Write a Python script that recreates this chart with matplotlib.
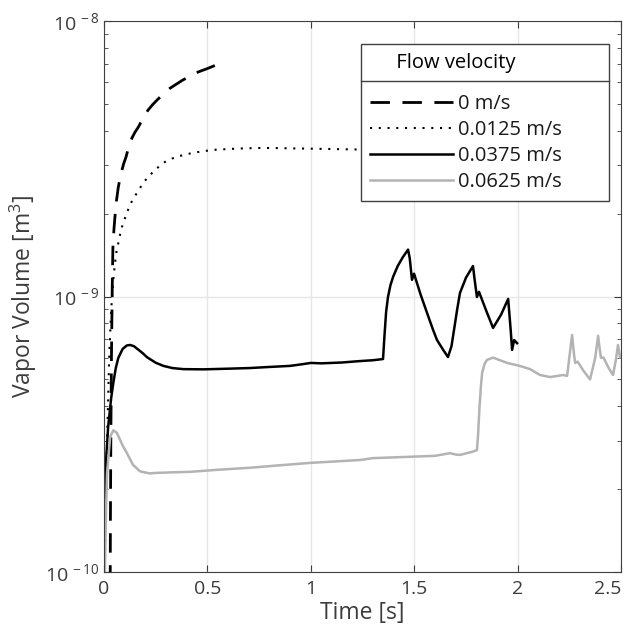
import numpy as np
import matplotlib.pyplot as plt
from matplotlib.lines import Line2D

plt.rcParams['font.family'] = ['Open Sans', 'DejaVu Sans']
plt.rcParams['mathtext.fontset'] = 'custom'
plt.rcParams['mathtext.rm'] = 'Open Sans'
plt.rcParams['mathtext.it'] = 'Open Sans'

# 0 m/s (dashed)
t0 = [0.030, 0.031, 0.033, 0.036, 0.040, 0.043, 0.048, 0.053, 0.060, 0.069, 0.078, 0.087,
      0.096, 0.106, 0.120, 0.135, 0.150, 0.166, 0.190, 0.213, 0.235, 0.256, 0.285, 0.319,
      0.350, 0.380, 0.420, 0.455, 0.500, 0.537]
v0 = [0.9e-10, 1.5e-10, 3.0e-10, 6.0e-10, 1.1e-9, 1.5e-9, 1.75e-9, 1.95e-9, 2.22e-9, 2.49e-9,
      2.7e-9, 2.88e-9, 3.05e-9, 3.2e-9, 3.5e-9, 3.76e-9, 3.95e-9, 4.12e-9, 4.45e-9, 4.75e-9,
      4.97e-9, 5.16e-9, 5.42e-9, 5.7e-9, 5.9e-9, 6.1e-9, 6.33e-9, 6.53e-9, 6.72e-9, 6.9e-9]

# 0.0125 m/s (dotted)
t1 = [0.005, 0.015, 0.025, 0.035, 0.045, 0.053, 0.060, 0.069, 0.078, 0.087, 0.102, 0.115,
      0.126, 0.142, 0.160, 0.189, 0.212, 0.237, 0.265, 0.295, 0.330, 0.368, 0.420, 0.479,
      0.540, 0.600, 0.680, 0.750, 0.820, 0.900, 1.000, 1.100, 1.200, 1.300]
v1 = [1.2e-10, 3.0e-10, 6.0e-10, 9.0e-10, 1.15e-9, 1.32e-9, 1.45e-9, 1.56e-9, 1.68e-9, 1.79e-9,
      1.93e-9, 2.05e-9, 2.15e-9, 2.27e-9, 2.38e-9, 2.58e-9, 2.71e-9, 2.83e-9, 2.96e-9, 3.08e-9,
      3.17e-9, 3.24e-9, 3.31e-9, 3.37e-9, 3.41e-9, 3.43e-9, 3.45e-9, 3.46e-9, 3.46e-9, 3.45e-9,
      3.44e-9, 3.43e-9, 3.42e-9, 3.41e-9]

# 0.0375 m/s (solid black)
t2 = [0.0, 0.005, 0.020, 0.035, 0.045, 0.057, 0.069, 0.090, 0.110, 0.126, 0.145, 0.165,
      0.188, 0.208, 0.250, 0.287, 0.330, 0.383, 0.480, 0.600, 0.706, 0.800, 0.900, 0.960,
      1.000, 1.050, 1.150, 1.238, 1.300, 1.349, 1.356, 1.364, 1.373, 1.385, 1.398, 1.420,
      1.445, 1.470, 1.478, 1.489, 1.499, 1.530, 1.562, 1.590, 1.610, 1.640, 1.663, 1.680,
      1.695, 1.707, 1.721, 1.750, 1.784, 1.792, 1.803, 1.813, 1.850, 1.881, 1.920, 1.954,
      1.966, 1.973, 1.983, 1.997]
v2 = [1.5e-10, 2.21e-10, 3.36e-10, 4.3e-10, 4.85e-10, 5.5e-10, 5.98e-10, 6.45e-10, 6.64e-10,
      6.67e-10, 6.6e-10, 6.42e-10, 6.22e-10, 6.02e-10, 5.75e-10, 5.6e-10, 5.5e-10, 5.45e-10,
      5.44e-10, 5.47e-10, 5.5e-10, 5.55e-10, 5.6e-10, 5.68e-10, 5.74e-10, 5.72e-10, 5.76e-10,
      5.83e-10, 5.87e-10, 5.93e-10, 7.2e-10, 8.8e-10, 9.96e-10, 1.1e-9, 1.18e-9, 1.29e-9,
      1.39e-9, 1.48e-9, 1.38e-9, 1.15e-9, 1.21e-9, 1.02e-9, 8.71e-10, 7.6e-10, 6.95e-10,
      6.4e-10, 6.03e-10, 6.6e-10, 7.8e-10, 8.93e-10, 1.03e-9, 1.17e-9, 1.29e-9, 1.15e-9,
      9.96e-10, 1.04e-9, 8.8e-10, 7.69e-10, 8.6e-10, 9.8e-10, 7.6e-10, 6.4e-10, 6.95e-10,
      6.77e-10]

# 0.0625 m/s (solid gray)
t3 = [0.003, 0.005, 0.010, 0.015, 0.030, 0.045, 0.062, 0.075, 0.090, 0.111, 0.140, 0.174,
      0.220, 0.256, 0.330, 0.416, 0.550, 0.706, 0.850, 1.000, 1.120, 1.238, 1.300, 1.480,
      1.600, 1.673, 1.700, 1.720, 1.780, 1.803, 1.808, 1.815, 1.822, 1.828, 1.840, 1.852,
      1.881, 1.949, 2.010, 2.060, 2.108, 2.157, 2.220, 2.239, 2.252, 2.263, 2.272, 2.278,
      2.290, 2.320, 2.350, 2.375, 2.389, 2.397, 2.403, 2.415, 2.440, 2.461, 2.475, 2.485,
      2.495, 2.520]
v3 = [0.9e-10, 1.08e-10, 1.7e-10, 2.29e-10, 3.1e-10, 3.27e-10, 3.2e-10, 3.05e-10, 2.88e-10,
      2.7e-10, 2.45e-10, 2.32e-10, 2.28e-10, 2.29e-10, 2.3e-10, 2.31e-10, 2.35e-10, 2.39e-10,
      2.44e-10, 2.49e-10, 2.52e-10, 2.55e-10, 2.59e-10, 2.62e-10, 2.64e-10, 2.7e-10, 2.67e-10,
      2.66e-10, 2.73e-10, 2.77e-10, 3.1e-10, 3.9e-10, 4.7e-10, 5.27e-10, 5.7e-10, 5.89e-10,
      6.0e-10, 5.74e-10, 5.6e-10, 5.45e-10, 5.19e-10, 5.1e-10, 5.19e-10, 5.15e-10, 6.2e-10,
      7.25e-10, 6.2e-10, 5.74e-10, 5.8e-10, 5.35e-10, 5.0e-10, 6.0e-10, 7.2e-10, 6.4e-10,
      5.99e-10, 6.0e-10, 5.5e-10, 5.19e-10, 5.9e-10, 6.67e-10, 6.0e-10, 6.2e-10]

labels = ['0 m/s', '0.0125 m/s', '0.0375 m/s', '0.0625 m/s']
xticks = [0, 0.5, 1, 1.5, 2, 2.5]
xticklabels = ['0', '0.5', '1', '1.5', '2', '2.5']

fig = plt.figure(figsize=(6.28, 6.31), dpi=100)
ax = fig.add_axes([0.1656, 0.0935, 0.8234, 0.8732])

ax.plot(t0, v0, color='black', lw=2, dashes=(7, 4.5), label=labels[0])
ax.plot(t1, v1, color='black', lw=1.5, dashes=(1, 3.2), label=labels[1])
ax.plot(t2, v2, color='black', lw=1.8, label=labels[2])
ax.plot(t3, v3, color='#b3b3b3', lw=1.8, label=labels[3])

ax.set_yscale('log')
ax.set_xlim(0, 2.5)
ax.set_ylim(1e-10, 1e-8)
ax.set_xticks(xticks)
ax.set_xticklabels(xticklabels)
ax.get_xticklabels()[-1].set_horizontalalignment('right')
ax.set_yticks([1e-10, 1e-9, 1e-8])
ax.set_yticklabels(['10$^{\\,-10}$', '10$^{\\,-9}$', '10$^{\\,-8}$'])
ax.grid(True, which='major', color='#e6e6e6', lw=1)
ax.tick_params(which='both', direction='in', top=True, right=True,
               colors='#3c3c3c', labelsize=14, length=5)
ax.tick_params(which='minor', length=3)
ax.tick_params(axis='x', pad=6)
for s in ax.spines.values():
    s.set_color('#404040')
ax.set_xlabel('Time [s]', fontsize=16.5, color='#3c3c3c', labelpad=2)
ax.set_ylabel('Vapor Volume [m$^3$]', fontsize=16.5, color='#3c3c3c', labelpad=4)

leg = ax.legend(title='     Flow velocity', loc='upper left',
                bbox_to_anchor=(0.497, 0.958, 0.48, 0.0), mode='expand', borderaxespad=0,
                fontsize=14.5, title_fontsize=14.5, alignment='left',
                frameon=True, fancybox=False, edgecolor='#404040', framealpha=1,
                handlelength=4.1, borderpad=0.45, labelspacing=0.3, handletextpad=0.25)
leg.get_frame().set_linewidth(1)
leg.set_zorder(5)
leg._legend_box.sep = 15
for txt in leg.get_texts():
    txt.set_color('#1a1a1a')

fig.canvas.draw()
bb = leg.get_window_extent().transformed(fig.transFigure.inverted())
tb = leg.get_title().get_window_extent().transformed(fig.transFigure.inverted())
ysep = tb.y0 - 0.012
fig.add_artist(Line2D([bb.x0, bb.x1], [ysep, ysep], color='#404040', lw=1, zorder=10))

fig.savefig('out.png', dpi=100)
